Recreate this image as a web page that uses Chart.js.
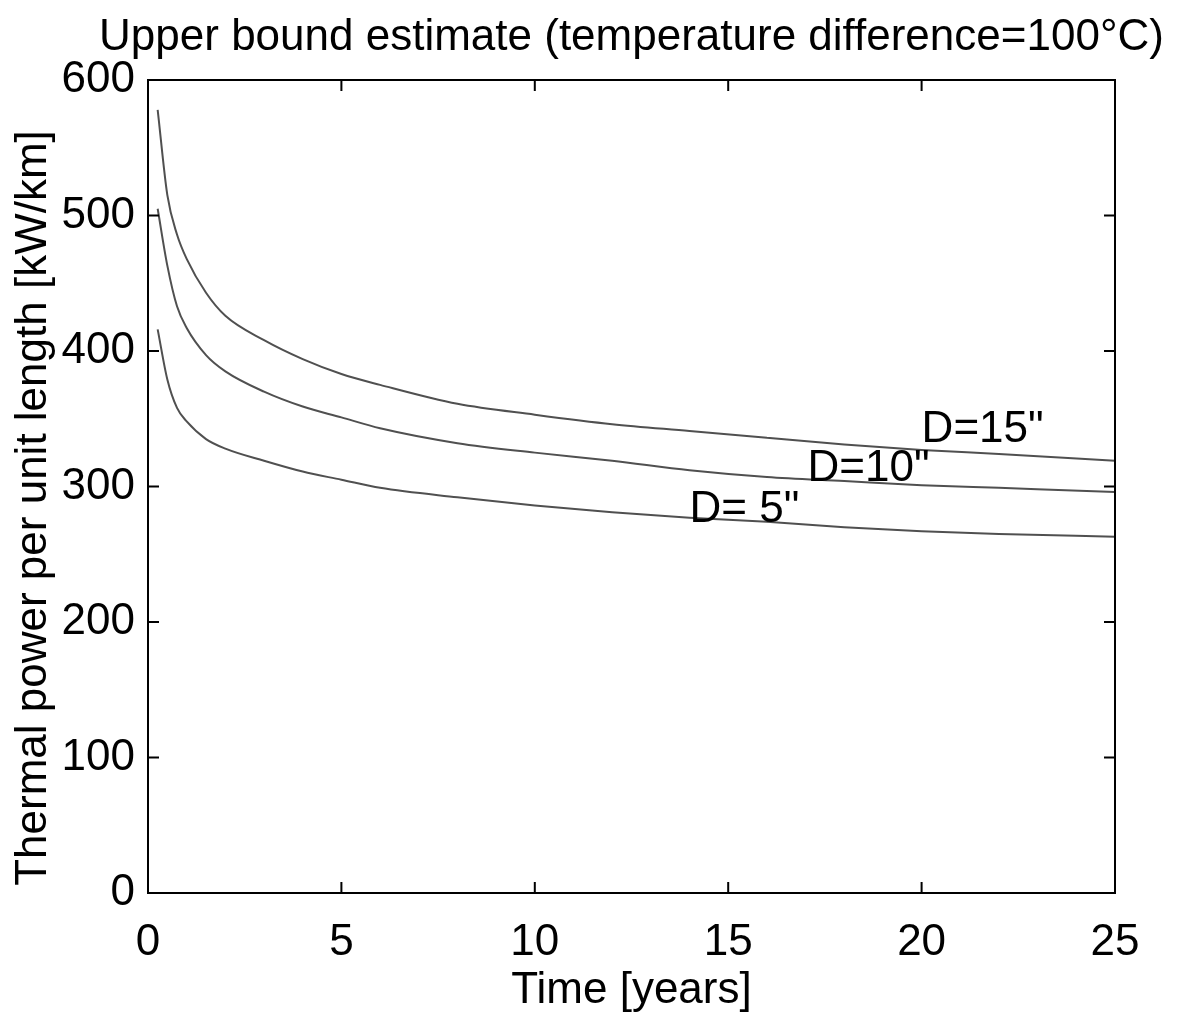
<!DOCTYPE html>
<html>
<head>
<meta charset="utf-8">
<script src="https://cdn.jsdelivr.net/npm/chart.js@4.4.0/dist/chart.umd.min.js"></script>
<style>
  html, body { margin: 0; padding: 0; background: #fff; }
  #wrap { width: 1177px; height: 1016px; }
</style>
</head>
<body>
<div id="wrap"><canvas id="powerChart" width="1177" height="1016"></canvas></div>
<script>
// time in years
const years = [0.25, 0.5, 0.75, 1, 1.5, 2, 3, 4, 5, 6, 8, 10, 12, 14, 16, 18, 20, 22, 25];

// thermal power per unit length [kW/km]
const d15 = [578, 515, 486, 468, 443, 426, 408, 394, 383, 375, 361, 353, 346, 341, 336, 331, 327, 324, 319];
const d10 = [505, 463, 433, 417, 397, 385, 370, 359, 351, 343, 332, 325, 319, 312, 307, 304, 301, 299, 296];
const d5  = [416, 379, 358, 348, 335, 328, 319, 311, 305, 299, 292, 286, 281, 277, 274, 270, 267, 265, 263];

const xTicks = [0, 5, 10, 15, 20, 25];
const yTicks = [0, 100, 200, 300, 400, 500, 600];

// curve labels: text, time, power (baseline left corner)
const curveLabels = [
    { text: 'D=15"', t: 20.0, p: 333 },
    { text: 'D=10"', t: 17.05, p: 304 },
    { text: 'D= 5"', t: 14.0, p: 274 }
];

const titleText = "Upper bound estimate (temperature difference=100\u00B0C)";
const xTitle = "Time [years]";
const yTitle = "Thermal power per unit length [kW/km]";

const FONT = '44px "Liberation Sans", Arial, Helvetica, sans-serif';

const toPoints = (vals) => years.map((t, i) => ({ x: t, y: vals[i] }));

const lineStyle = {
    borderColor: "#505050",
    borderWidth: 2,
    pointRadius: 0,
    fill: false,
    cubicInterpolationMode: "monotone"
};

const framePlugin = {
    id: "frame",
    afterDraw(chart) {
        const { ctx, chartArea: a, scales: { x, y } } = chart;
        ctx.save();

        // box
        ctx.strokeStyle = "#000";
        ctx.lineWidth = 2;
        ctx.strokeRect(a.left, a.top, a.right - a.left, a.bottom - a.top);

        // inward ticks on all sides
        ctx.beginPath();
        xTicks.forEach(v => {
            const px = x.getPixelForValue(v);
            ctx.moveTo(px, a.bottom); ctx.lineTo(px, a.bottom - 11);
            ctx.moveTo(px, a.top); ctx.lineTo(px, a.top + 11);
        });
        yTicks.forEach(v => {
            const py = y.getPixelForValue(v);
            ctx.moveTo(a.left, py); ctx.lineTo(a.left + 11, py);
            ctx.moveTo(a.right, py); ctx.lineTo(a.right - 11, py);
        });
        ctx.stroke();

        ctx.fillStyle = "#000";
        ctx.font = FONT;

        // title
        ctx.textAlign = "center";
        ctx.textBaseline = "alphabetic";
        ctx.fillText(titleText, (a.left + a.right) / 2, 50);

        // x title
        ctx.fillText(xTitle, (a.left + a.right) / 2, 1003);

        // y title
        ctx.save();
        ctx.translate(46, 508);
        ctx.rotate(-Math.PI / 2);
        ctx.fillText(yTitle, 0, 0);
        ctx.restore();

        // curve labels
        ctx.textAlign = "left";
        curveLabels.forEach(l => {
            ctx.fillText(l.text, x.getPixelForValue(l.t), y.getPixelForValue(l.p));
        });

        ctx.restore();
    }
};

new Chart(document.getElementById("powerChart"), {
    type: "line",
    data: {
        datasets: [
            { label: 'D=15"', data: toPoints(d15), ...lineStyle },
            { label: 'D=10"', data: toPoints(d10), ...lineStyle },
            { label: 'D= 5"', data: toPoints(d5), ...lineStyle }
        ]
    },
    options: {
        responsive: false,
        animation: false,
        layout: { padding: { top: 80, right: 62, bottom: 0, left: 0 } },
        plugins: {
            legend: { display: false },
            tooltip: { enabled: false },
            title: { display: false }
        },
        scales: {
            x: {
                type: "linear",
                min: 0,
                max: 25,
                afterFit: (s) => { s.height = 123; },
                afterBuildTicks: (s) => { s.ticks = xTicks.map(v => ({ value: v })); },
                grid: { display: false },
                border: { display: false },
                ticks: {
                    color: "#000",
                    padding: 15,
                    font: { family: '"Liberation Sans", Arial, sans-serif', size: 44 }
                }
            },
            y: {
                min: 0,
                max: 600,
                afterFit: (s) => { s.width = 148; },
                afterBuildTicks: (s) => { s.ticks = yTicks.map(v => ({ value: v })); },
                grid: { display: false },
                border: { display: false },
                ticks: {
                    color: "#000",
                    padding: 5,
                    font: { family: '"Liberation Sans", Arial, sans-serif', size: 44 }
                }
            }
        }
    },
    plugins: [framePlugin]
});
</script>
</body>
</html>
